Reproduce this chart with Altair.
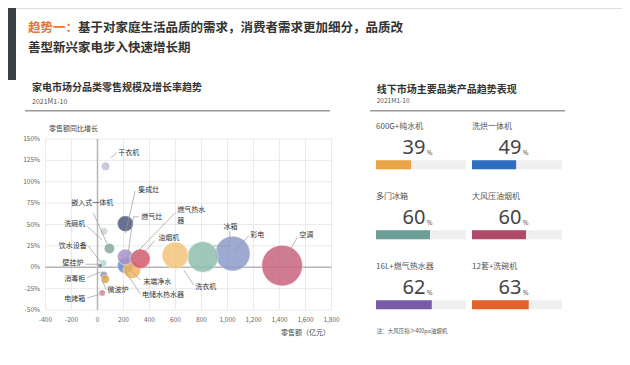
import altair as alt
import pandas as pd

FONT = "Noto Sans CJK SC"

# ---------------- bubble chart data ----------------
bub_name = ["空调", "彩电", "冰箱", "洗衣机", "电储水热水器", "末端净水", "燃气热水器", "油烟机",
            "集成灶", "干衣机", "洗碗机", "饮水设备", "壁挂炉", "嵌入式一体机", "消毒柜", "微波炉", "电烤箱"]
bub_sales = [1420, 1040, 810, 598, 214, 265, 214, 330, 214, 62, 49, 92, 44, 20, 48, 60, 36]
bub_growth = [2, 16, 12, 14, 2, -3, 12, 10, 51, 118, 42, 22, 5, 1.7, -9, -14, -30]
bub_color = ["#c8657e", "#8e9cc9", "#8fbfae", "#f3c47a", "#6e8fd0", "#f1b65c", "#a693c9", "#d45a6e",
             "#4f5a80", "#c2bedc", "#c9d4da", "#87a9a1", "#b3d7d4", "#7d8396", "#969bab", "#d9a550", "#c98d9e"]

x_ticks = [-400, -200, 0, 200, 400, 600, 800, 1000, 1200, 1400, 1600, 1800]
x_tick_labels = ["-400", "-200", "0", "200", "400", "600", "800", "1,000", "1,200", "1,400", "1,600", "1,800"]
y_ticks = [-50, -25, 0, 25, 50, 75, 100, 125, 150]
y_tick_labels = ["-50%", "-25%", "0%", "25%", "50%", "75%", "100%", "125%", "150%"]

annot_text = ["干衣机", "集成灶", "嵌入式一体机", "燃气灶", "燃气热水", "器", "油烟机", "冰箱", "彩电", "空调",
              "洗碗机", "饮水设备", "壁挂炉", "消毒柜", "微波炉", "电烤箱", "末端净水", "电储水热水器", "洗衣机"]
annot_x = [160, 313, -40, 336, 613, 613, 467, 970, 1175, 1551, -95, -82, -107, -94, 77, -94, 352, 342, 752]
annot_y = [134, 90, 75, 59, 67, 54, 34, 47, 38, 38, 50.5, 25, 4.5, -14, -26.6, -37.5, -17, -32.5, -23]
annot_align = ["left", "left", "center", "left", "left", "left", "left", "left", "left", "left",
               "right", "right", "right", "right", "left", "right", "left", "left", "left"]

lead_x1 = [103, 214, -31, 225, 254, 305, 1018, 1049, 1433, -80, -69, -92, -80, 67, -80, 252, 215, 664, 1018, 275]
lead_y1 = [128, 40, 63, 5, 10, 8, 42, 18, 6, 48, 25, 3.5, -12, -26, -36, -3, -5, -3.5, 25, 59]
lead_x2 = [149, 290, 72, 275, 600, 440, 1018, 1164, 1536, 34, 23, 12, 23, 34, 10, 329, 330, 741, 890, 318]
lead_y2 = [134, 89, 28, 59, 64, 31, 25, 37, 35, 32, 6, 3.5, -5.5, -15, -32, -15, -31, -21, 25, 59]

# ---------------- right panel data ----------------
card_names = ["600G+纯水机", "洗烘一体机", "多门冰箱", "大风压油烟机", "16L+燃气热水器", "12套+洗碗机"]
card_vals = [39, 49, 60, 60, 62, 63]
card_colors = ["#e8a446", "#2e6dc0", "#6c9e98", "#b04a68", "#7a5ba8", "#e2622a"]

# ---------------- helpers ----------------
XS = alt.Scale(domain=[-400, 1800], range=[37.5, 323.5], nice=False, zero=False)
YS = alt.Scale(domain=[-50, 150], range=[302, 131], nice=False, zero=False)
CXS = alt.Scale(domain=[0, 206.7], range=[368, 554], nice=False, zero=False)
CYS = alt.Scale(domain=[0, 2], range=[156.7, 296.7], nice=False, zero=False)
ONE = pd.DataFrame({"a": [0]})


def txt(s, x, y, size, color, weight="normal", align="left", baseline="middle"):
    return alt.Chart(pd.DataFrame({"t": [s]})).mark_text(
        align=align, baseline=baseline, fontSize=size, font=FONT, color=color, fontWeight=weight
    ).encode(x=alt.value(x), y=alt.value(y), text="t:N")


def hline(x1, x2, y, color, w):
    return alt.Chart(ONE).mark_rule(color=color, strokeWidth=w).encode(
        x=alt.value(x1), x2=alt.value(x2), y=alt.value(y))


def vline(x, y1, y2, color, w):
    return alt.Chart(ONE).mark_rule(color=color, strokeWidth=w, strokeCap="butt").encode(
        x=alt.value(x), y=alt.value(y1), y2=alt.value(y2))


layers = []

# header accent bar
layers.append(vline(4, 0, 72, "#3b4045", 8))
layers.append(txt("趋势一：", 20, 19.5, 12.5, "#e8772e", "bold"))
layers.append(txt("基于对家庭生活品质的需求，消费者需求更加细分，品质改", 70, 19.5, 12.5, "#333333", "bold"))
layers.append(txt("善型新兴家电步入快速增长期", 20, 39.7, 12.5, "#333333", "bold"))

# sub headers
layers.append(txt("家电市场分品类零售规模及增长率趋势", 24, 80, 10, "#333333", "bold"))
layers.append(txt("2021M1-10", 24, 93.5, 7, "#555555"))
layers.append(hline(17, 322, 102.7, "#9a9a9a", 1.5))
layers.append(txt("线下市场主要品类产品趋势表现", 368.7, 82, 10, "#333333", "bold"))
layers.append(txt("2021M1-10", 368.7, 93, 6.5, "#555555"))
layers.append(hline(362, 557, 102.7, "#9a9a9a", 1.5))

# bubble chart grid
xt = pd.DataFrame({"v": x_ticks, "lab": x_tick_labels})
yt = pd.DataFrame({"v": y_ticks, "lab": y_tick_labels})
layers.append(alt.Chart(xt).mark_rule(color="#e4e4e4", strokeWidth=0.8).encode(
    x=alt.X("v:Q", scale=XS, axis=None),
    y=alt.YDatum(-50, scale=YS, axis=None), y2=alt.Y2Datum(150)))
layers.append(alt.Chart(yt).mark_rule(color="#e4e4e4", strokeWidth=0.8).encode(
    y=alt.Y("v:Q", scale=YS, axis=None),
    x=alt.XDatum(-400, scale=XS, axis=None), x2=alt.X2Datum(1800)))
# zero lines
layers.append(alt.Chart(ONE).mark_rule(color="#b5b5b5", strokeWidth=1.5).encode(
    x=alt.XDatum(0, scale=XS, axis=None),
    y=alt.YDatum(-50, scale=YS, axis=None), y2=alt.Y2Datum(150)))
layers.append(alt.Chart(ONE).mark_rule(color="#b5b5b5", strokeWidth=1.5).encode(
    y=alt.YDatum(0, scale=YS, axis=None),
    x=alt.XDatum(-400, scale=XS, axis=None), x2=alt.X2Datum(1800)))
# tick labels
layers.append(alt.Chart(xt).mark_text(fontSize=6.5, font=FONT, color="#666666", baseline="middle").encode(
    x=alt.X("v:Q", scale=XS, axis=None), y=alt.value(311.5), text="lab:N"))
layers.append(alt.Chart(yt).mark_text(fontSize=6.5, font=FONT, color="#666666", align="right", baseline="middle").encode(
    y=alt.Y("v:Q", scale=YS, axis=None), x=alt.value(32), text="lab:N"))
layers.append(txt("零售额同比增长", 41, 121, 7, "#444444"))
layers.append(txt("零售额（亿元）", 322, 324.5, 7, "#444444", align="right"))

# bubbles
bub = pd.DataFrame({"name": bub_name, "sales": bub_sales, "growth": bub_growth, "c": bub_color,
                    "o": list(range(len(bub_name)))})
layers.append(alt.Chart(bub).mark_circle(opacity=0.85, stroke="white", strokeWidth=0.5).encode(
    x=alt.X("sales:Q", scale=XS, axis=None),
    y=alt.Y("growth:Q", scale=YS, axis=None),
    size=alt.Size("sales:Q", scale=alt.Scale(type="linear", domain=[0, 1500], range=[0, 1755]), legend=None),
    color=alt.Color("c:N", scale=None),
    order=alt.Order("o:Q")))

# leader lines
lead = pd.DataFrame({"x1": lead_x1, "y1": lead_y1, "x2": lead_x2, "y2": lead_y2})
layers.append(alt.Chart(lead).mark_rule(color="#9a9a9a", strokeWidth=0.7).encode(
    x=alt.X("x1:Q", scale=XS, axis=None), y=alt.Y("y1:Q", scale=YS, axis=None),
    x2="x2:Q", y2="y2:Q"))

# annotation labels
ann = pd.DataFrame({"t": annot_text, "x": annot_x, "y": annot_y, "al": annot_align})
for al in ["left", "right", "center"]:
    layers.append(alt.Chart(ann).transform_filter(alt.datum.al == al).mark_text(
        align=al, baseline="middle", fontSize=7, font=FONT, color="#333333").encode(
        x=alt.X("x:Q", scale=XS, axis=None), y=alt.Y("y:Q", scale=YS, axis=None), text="t:N"))

# right panel cards
cards = pd.DataFrame({"name": card_names, "v": card_vals, "c": card_colors,
                      "col": [i % 2 for i in range(6)], "row": [i // 2 for i in range(6)]})
base = alt.Chart(cards).transform_calculate(
    x0="datum.col * 106.7", x1="datum.col * 106.7 + datum.v", xe="datum.col * 106.7 + 100",
    xn="datum.col * 106.7 + 55", xp="datum.col * 106.7 + 56.5")
layers.append(base.mark_rule(color="#efefef", strokeWidth=9, strokeCap="butt").encode(
    x=alt.X("x0:Q", scale=CXS, axis=None), x2="xe:Q", y=alt.Y("row:Q", scale=CYS, axis=None)))
layers.append(base.mark_rule(strokeWidth=9, strokeCap="butt").encode(
    x=alt.X("x0:Q", scale=CXS, axis=None), x2="x1:Q", y=alt.Y("row:Q", scale=CYS, axis=None),
    color=alt.Color("c:N", scale=None)))
layers.append(base.mark_text(align="left", baseline="middle", fontSize=8, font=FONT, color="#555555", dy=-38).encode(
    x=alt.X("x0:Q", scale=CXS, axis=None), y=alt.Y("row:Q", scale=CYS, axis=None), text="name:N"))
layers.append(base.mark_text(align="right", baseline="middle", fontSize=20, font="Noto Sans", color="#444444", dy=-17).encode(
    x=alt.X("xn:Q", scale=CXS, axis=None), y=alt.Y("row:Q", scale=CYS, axis=None), text="v:N"))
layers.append(base.mark_text(align="left", baseline="alphabetic", fontSize=7, font="Noto Sans", color="#666666", dy=-10).encode(
    x=alt.X("xp:Q", scale=CXS, axis=None), y=alt.Y("row:Q", scale=CYS, axis=None), text=alt.value("%")))
layers.append(txt("注：大风压指≥400pa油烟机", 368.7, 323, 5.5, "#555555"))

# white cover along the left edge below the accent bar
layers.append(vline(1, 72.5, 349, "white", 2.5))

chart = alt.layer(*layers).resolve_scale(
    x="independent", y="independent", size="independent", color="independent"
).properties(
    width=614, height=349, padding=0, autosize=alt.AutoSizeParams(type="none")
).configure_view(stroke=None).configure_axis(
    domain=False, ticks=False, labels=False, grid=False
).configure(background="white")

chart.save("out.html", embed_options={"renderer": "svg", "actions": False})
